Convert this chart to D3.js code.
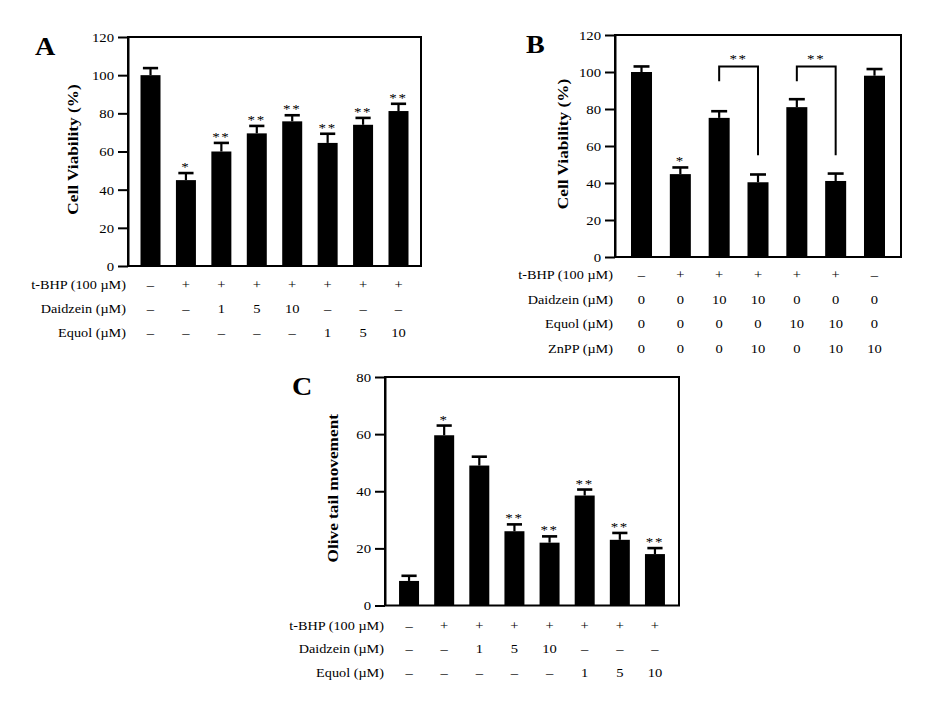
<!DOCTYPE html>
<html>
<head>
<meta charset="utf-8">
<script src="https://cdn.jsdelivr.net/npm/d3@7/dist/d3.min.js"></script>
<style>
  html, body { margin: 0; padding: 0; background: #fff; }
  svg { display: block; }
  text { font-family: "Liberation Serif", "Times New Roman", serif; fill: #000; }
</style>
</head>
<body>
<svg id="chart" width="928" height="710"></svg>
<script>
// ---------------- Data ----------------
// Panel A
const categoriesA = ["Control", "t-BHP", "D1", "D5", "D10", "E1", "E5", "E10"];
const valuesA = [100, 45, 60, 69.5, 75.8, 64.5, 74, 81.2];
const errorsA = [3.7, 3.7, 4.5, 3.9, 3.2, 4.8, 3.6, 3.8];
const sigA = ["", "*", "**", "**", "**", "**", "**", "**"];
const tbhpA = ["–", "+", "+", "+", "+", "+", "+", "+"];
const daidzeinA = ["–", "–", "1", "5", "10", "–", "–", "–"];
const equolA = ["–", "–", "–", "–", "–", "1", "5", "10"];
const ticksA = [0, 20, 40, 60, 80, 100, 120];

// Panel B
const categoriesB = ["Control", "t-BHP", "D10", "D10+ZnPP", "E10", "E10+ZnPP", "ZnPP"];
const valuesB = [100, 44.8, 75.2, 40.4, 81, 41.1, 98];
const errorsB = [3, 3.6, 3.6, 4.2, 4.3, 4, 3.6];
const sigB = ["", "*", "", "", "", "", ""];
const tbhpB = ["–", "+", "+", "+", "+", "+", "–"];
const daidzeinB = ["0", "0", "10", "10", "0", "0", "0"];
const equolB = ["0", "0", "0", "0", "10", "10", "0"];
const znppB = ["0", "0", "0", "10", "0", "10", "10"];
const bracketFrom = [2, 4];
const bracketTo = [3, 5];
const bracketTop = [103, 103];
const bracketLeftEnd = [95, 95];
const bracketRightEnd = [55, 55];
const bracketLabel = ["**", "**"];
const ticksB = [0, 20, 40, 60, 80, 100, 120];

// Panel C
const categoriesC = ["Control", "t-BHP", "D1", "D5", "D10", "E1", "E5", "E10"];
const valuesC = [8.6, 59.6, 49, 26, 22, 38.5, 23, 18];
const errorsC = [1.8, 3.4, 3.1, 2.4, 2.2, 2.1, 2.4, 2.1];
const sigC = ["", "*", "", "**", "**", "**", "**", "**"];
const tbhpC = ["–", "+", "+", "+", "+", "+", "+", "+"];
const daidzeinC = ["–", "–", "1", "5", "10", "–", "–", "–"];
const equolC = ["–", "–", "–", "–", "–", "1", "5", "10"];
const ticksC = [0, 20, 40, 60, 80];

// ---------------- Drawing ----------------
const svg = d3.select("#chart");

function addText(parent, x, y, str, o = {}) {
  const g = parent.append("g")
    .attr("transform", `translate(${x},${y}) rotate(${o.rotate || 0}) scale(${o.sx || 1},1)`);
  g.append("text")
    .attr("text-anchor", o.anchor || "start")
    .attr("dominant-baseline", o.baseline || "auto")
    .style("font-size", (o.size || 13) + "px")
    .style("font-weight", o.weight || "normal")
    .style("letter-spacing", o.ls || "0px")
    .text(str);
  return g;
}

function panel(cfg) {
  const g = svg.append("g");
  const x = d3.scaleBand().domain(cfg.categories).range([cfg.x0, cfg.x1])
    .paddingInner(cfg.pi).paddingOuter(cfg.po);
  const y = d3.scaleLinear().domain([0, cfg.max]).range([cfg.yBot, cfg.yTop]);

  // bars
  g.selectAll("rect.bar").data(cfg.values).join("rect")
    .attr("x", (d, i) => x(cfg.categories[i]))
    .attr("y", d => y(d))
    .attr("width", x.bandwidth())
    .attr("height", d => y(0) - y(d))
    .attr("fill", "#000");

  // error bars
  const cw = x.bandwidth() * 0.38;
  cfg.values.forEach((v, i) => {
    const cx = x(cfg.categories[i]) + x.bandwidth() / 2;
    const yt = y(v + cfg.errors[i]);
    g.append("line").attr("x1", cx).attr("x2", cx).attr("y1", y(v)).attr("y2", yt)
      .attr("stroke", "#000").attr("stroke-width", 2.2);
    g.append("line").attr("x1", cx - cw).attr("x2", cx + cw).attr("y1", yt).attr("y2", yt)
      .attr("stroke", "#000").attr("stroke-width", 2.6);
    if (cfg.sig[i]) {
      addText(g, cx, yt - 2, cfg.sig[i], { anchor: "middle", size: 13, sx: 1.15, ls: "1.5px" });
    }
  });

  // frame
  g.append("rect").attr("x", cfg.x0).attr("y", cfg.yTop)
    .attr("width", cfg.x1 - cfg.x0).attr("height", cfg.yBot - cfg.yTop)
    .attr("fill", "none").attr("stroke", "#000").attr("stroke-width", 2);

  // y axis
  const ax = g.append("g").attr("transform", `translate(${cfg.x0},0)`)
    .call(d3.axisLeft(y).tickValues(cfg.ticks).tickSize(10).tickSizeOuter(0).tickFormat(d3.format("d")));
  ax.select(".domain").attr("stroke", "#000").attr("stroke-width", 2);
  ax.selectAll(".tick line").attr("stroke", "#000").attr("stroke-width", 2);
  ax.selectAll(".tick text")
    .attr("x", 0).attr("dy", "0.35em")
    .attr("transform", "translate(-14,0) scale(1.18,1)")
    .style("font-family", '"Liberation Serif", serif')
    .style("font-size", "12.5px")
    .attr("fill", "#000");

  // y title
  addText(g, cfg.titleX, (cfg.yTop + cfg.yBot) / 2 + (cfg.titleDy || 0), cfg.title,
    { anchor: "middle", size: 15, weight: "bold", rotate: -90, sx: 1.15 });

  // panel letter
  addText(g, cfg.letterX, cfg.letterY, cfg.letter, { size: 26, weight: "bold", sx: 1.08 });

  // treatment rows
  cfg.rows.forEach((row, r) => {
    const ry = cfg.rowY[r];
    addText(g, cfg.labelX, ry, row.label, { anchor: "end", size: 12.5, sx: 1.14, baseline: "central" });
    row.vals.forEach((v, i) => {
      const cx = x(cfg.categories[i]) + x.bandwidth() / 2;
      addText(g, cx, ry, v, { anchor: "middle", size: 13, sx: 1.12, baseline: "central" });
    });
  });

  return { g, x, y };
}

// Panel A
panel({
  categories: categoriesA, values: valuesA, errors: errorsA, sig: sigA,
  x0: 128, x1: 421, yTop: 37, yBot: 266, max: 120, ticks: ticksA,
  pi: 0.4355, po: 0.353,
  title: "Cell Viability (%)", titleX: 78, titleDy: -2,
  letter: "A", letterX: 35, letterY: 55,
  labelX: 126, rowY: [285, 309, 333],
  rows: [
    { label: "t-BHP (100 µM)", vals: tbhpA },
    { label: "Daidzein (µM)", vals: daidzeinA },
    { label: "Equol (µM)", vals: equolA }
  ]
});

// Panel B
const pB = panel({
  categories: categoriesB, values: valuesB, errors: errorsB, sig: sigB,
  x0: 615, x1: 901, yTop: 35, yBot: 257, max: 120, ticks: ticksB,
  pi: 0.459, po: 0.412,
  title: "Cell Viability (%)", titleX: 568, titleDy: -2,
  letter: "B", letterX: 526, letterY: 53,
  labelX: 613, rowY: [275, 300, 324, 349],
  rows: [
    { label: "t-BHP (100 µM)", vals: tbhpB },
    { label: "Daidzein (µM)", vals: daidzeinB },
    { label: "Equol (µM)", vals: equolB },
    { label: "ZnPP (µM)", vals: znppB }
  ]
});

// brackets in B
bracketFrom.forEach((f, k) => {
  const xs = pB.x, ys = pB.y, bw = xs.bandwidth() / 2;
  const xa = xs(categoriesB[f]) + bw, xb = xs(categoriesB[bracketTo[k]]) + bw;
  const path = d3.path();
  path.moveTo(xa, ys(bracketLeftEnd[k]));
  path.lineTo(xa, ys(bracketTop[k]));
  path.lineTo(xb, ys(bracketTop[k]));
  path.lineTo(xb, ys(bracketRightEnd[k]));
  pB.g.append("path").attr("d", path.toString()).attr("fill", "none")
    .attr("stroke", "#000").attr("stroke-width", 2);
  addText(pB.g, (xa + xb) / 2, ys(bracketTop[k]) - 3, bracketLabel[k],
    { anchor: "middle", size: 13, sx: 1.15, ls: "1.5px" });
});

// Panel C
panel({
  categories: categoriesC, values: valuesC, errors: errorsC, sig: sigC,
  x0: 385, x1: 679, yTop: 377, yBot: 605.5, max: 80, ticks: ticksC,
  pi: 0.431, po: 0.40,
  title: "Olive tail movement", titleX: 338, titleDy: -3,
  letter: "C", letterX: 292, letterY: 395,
  labelX: 384, rowY: [626, 649, 673],
  rows: [
    { label: "t-BHP (100 µM)", vals: tbhpC },
    { label: "Daidzein (µM)", vals: daidzeinC },
    { label: "Equol (µM)", vals: equolC }
  ]
});
</script>
</body>
</html>
